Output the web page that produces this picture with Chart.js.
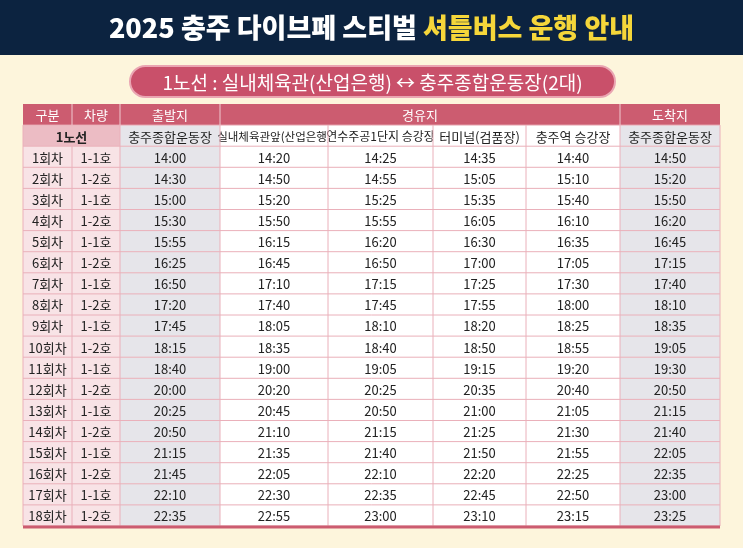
<!DOCTYPE html><html><head><meta charset="utf-8">
<script src="https://cdn.jsdelivr.net/npm/chart.js@4"></script>
<style>html,body{margin:0;background:#fdf5dc}#w{width:743px;height:548px}</style></head><body>
<div id="w"><canvas id="c"></canvas></div>
<script>
const titleWhite = "2025 충주 다이브페 스티벌 ";
const titleYellow = "셔틀버스 운행 안내";
const routeLabel = "1노선 : 실내체육관(산업은행) ↔ 충주종합운동장(2대)";
const headerCells = [["구분",0,1],["차량",1,2],["출발지",2,3],["경유지",3,7],["도착지",7,8]];
const stopNames = ["충주종합운동장","실내체육관앞(산업은행)","연수주공1단지 승강장","터미널(검품장)","충주역 승강장","충주종합운동장"];
const runs = ["1회차","2회차","3회차","4회차","5회차","6회차","7회차","8회차","9회차","10회차","11회차","12회차","13회차","14회차","15회차","16회차","17회차","18회차"];
const buses = ["1-1호","1-2호","1-1호","1-2호","1-1호","1-2호","1-1호","1-2호","1-1호","1-2호","1-1호","1-2호","1-1호","1-2호","1-1호","1-2호","1-1호","1-2호"];
const depart = ["14:00","14:30","15:00","15:30","15:55","16:25","16:50","17:20","17:45","18:15","18:40","20:00","20:25","20:50","21:15","21:45","22:10","22:35"];
const stop1 = ["14:20","14:50","15:20","15:50","16:15","16:45","17:10","17:40","18:05","18:35","19:00","20:20","20:45","21:10","21:35","22:05","22:30","22:55"];
const stop2 = ["14:25","14:55","15:25","15:55","16:20","16:50","17:15","17:45","18:10","18:40","19:05","20:25","20:50","21:15","21:40","22:10","22:35","23:00"];
const stop3 = ["14:35","15:05","15:35","16:05","16:30","17:00","17:25","17:55","18:20","18:50","19:15","20:35","21:00","21:25","21:50","22:20","22:45","23:10"];
const stop4 = ["14:40","15:10","15:40","16:10","16:35","17:05","17:30","18:00","18:25","18:55","19:20","20:40","21:05","21:30","21:55","22:25","22:50","23:15"];
const arrive = ["14:50","15:20","15:50","16:20","16:45","17:15","17:40","18:10","18:35","19:05","19:30","20:50","21:15","21:40","22:05","22:35","23:00","23:25"];
const colWidths = [49,48,100,108,105,93,94,100];

const colEdges=[0];colWidths.forEach(w=>colEdges.push(colEdges[colEdges.length-1]+w));
const F='"Noto Sans CJK KR","Noto Sans",sans-serif';
const tablePlugin={id:'tbl',
 beforeDraw(ch){const c=ch.ctx;c.save();c.fillStyle='#fdf5dc';c.fillRect(0,0,ch.width,ch.height);
  c.fillStyle='#0c2340';c.fillRect(0,0,ch.width,55);
  c.font='900 27px '+F;c.textBaseline='middle';
  const w1=c.measureText(titleWhite).width,w2=c.measureText(titleYellow).width,x0=(ch.width-w1-w2)/2;
  c.textAlign='left';c.fillStyle='#fff';c.fillText(titleWhite,x0,28);c.fillStyle='#f5d63a';c.fillText(titleYellow,x0+w1,28);
  const px=130,py=66,pw=485,phh=31;c.beginPath();c.roundRect(px,py,pw,phh,15.5);c.fillStyle='#c9506a';c.fill();c.lineWidth=2;c.strokeStyle='#eaa5b2';c.stroke();
  c.fillStyle='#fff';c.font='19px '+F;c.textAlign='center';c.fillText(routeLabel,px+pw/2,py+phh/2+1);c.restore();},
 afterDraw(ch){const c=ch.ctx,X=ch.scales.x,Y=ch.scales.y;c.save();
  const xp=v=>X.getPixelForValue(v),yp=v=>Y.getPixelForValue(v);
  const cell=(c0,c1,r,bg,txt,font,col)=>{const x=xp(colEdges[c0]),x2=xp(colEdges[c1]),y=yp(r),y2=yp(r+1);
   if(bg){c.fillStyle=bg;c.fillRect(x,y,x2-x,y2-y);}
   if(txt){c.fillStyle=col;c.font=font;c.textAlign='center';c.textBaseline='middle';c.fillText(txt,(x+x2)/2,(y+y2)/2+1);}};
  // header
  headerCells.forEach(h=>cell(h[1],h[2],0,'#cc5c70',h[0],'13px '+F,'#fff'));
  cell(0,2,1,'#ecbcc4','1노선','bold 13px '+F,'#222');
  stopNames.forEach((s,i)=>cell(i+2,i+3,1,(i==0||i==5)?'#e6e5ea':'#fff',s,(i==1?'11.5px ':i==2?'12px ':'13px ')+F,'#222'));
  const cols=[runs,buses,depart,stop1,stop2,stop3,stop4,arrive];
  runs.forEach((_,r)=>cols.forEach((arr,ci)=>cell(ci,ci+1,r+2,ci<2?'#f8e3e6':(ci==2||ci==7)?'#e6e5ea':'#fff',arr[r],'13px '+F,'#222')));
  // grid
  c.strokeStyle='#eab0ba';c.lineWidth=1;
  for(let r=1;r<=20;r++){c.beginPath();c.moveTo(xp(0),yp(r));c.lineTo(xp(colEdges[8]),yp(r));c.stroke();}
  colEdges.forEach((e,i)=>{c.beginPath();c.moveTo(xp(e),yp(i==1?2:1));c.lineTo(xp(e),yp(20));c.stroke();});
  c.strokeStyle='#f0c9d0';[1,2,3,7].forEach(i=>{c.beginPath();c.moveTo(xp(colEdges[i]),yp(0));c.lineTo(xp(colEdges[i]),yp(1));c.stroke();});
  c.strokeStyle='#cc5c70';c.lineWidth=3;c.beginPath();c.moveTo(xp(0),yp(20)+1);c.lineTo(xp(colEdges[8]),yp(20)+1);c.stroke();
  c.restore();}};
new Chart(document.getElementById('c'),{type:'scatter',data:{datasets:[{data:[],pointRadius:0}]},
 options:{responsive:true,maintainAspectRatio:false,animation:false,events:[],
  layout:{padding:{left:23,right:23,top:104,bottom:22}},
  plugins:{legend:{display:false},tooltip:{enabled:false}},
  scales:{x:{type:'linear',min:0,max:colEdges[8],display:false},y:{type:'linear',min:0,max:20,reverse:true,display:false}}},
 plugins:[tablePlugin]});
</script></body></html>
